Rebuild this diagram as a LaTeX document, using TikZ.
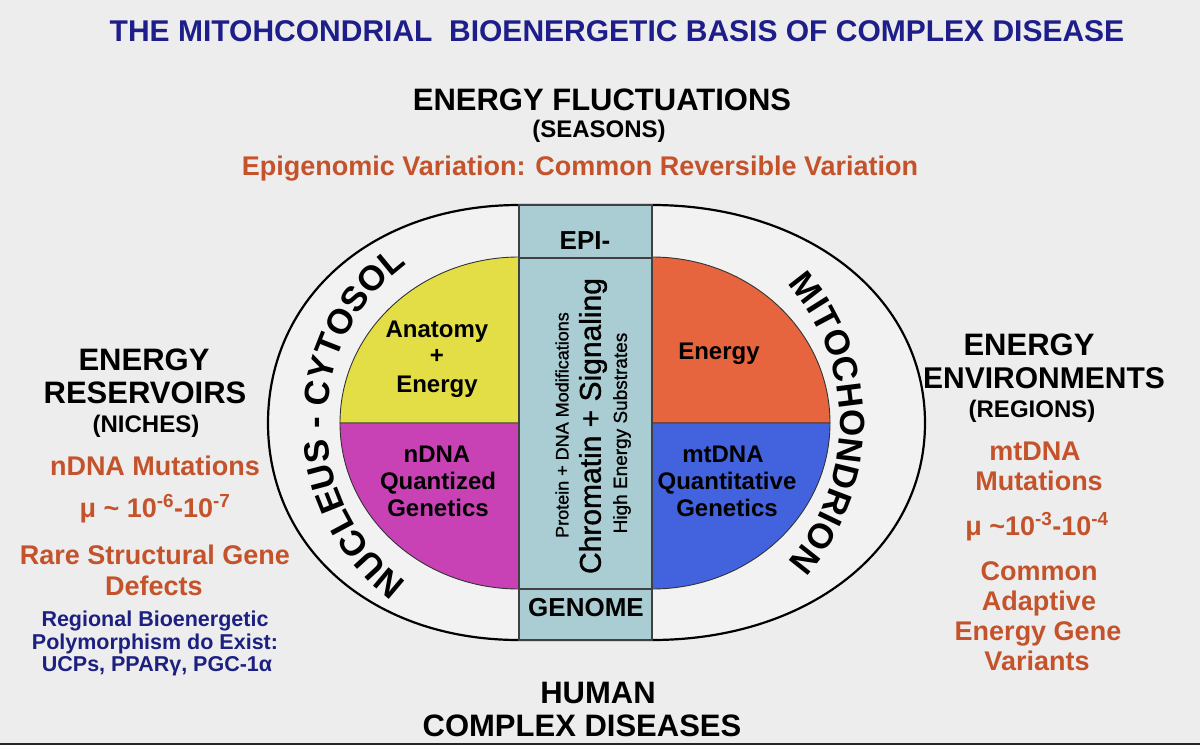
\documentclass[tikz,border=0pt]{standalone}
\usepackage{fontspec}
\setmainfont{Liberation Sans}
\newfontfamily\semib[FakeBold=1.1]{Liberation Sans}
\usetikzlibrary{decorations.text}
\definecolor{bg}{HTML}{EEEDED}
\definecolor{navy}{HTML}{1E1E8A}
\definecolor{rust}{HTML}{C4532B}
\definecolor{navytwo}{HTML}{1C2080}
\definecolor{yel}{HTML}{E3DE45}
\definecolor{mag}{HTML}{C942B5}
\definecolor{org}{HTML}{E6653E}
\definecolor{blu}{HTML}{4262DE}
\definecolor{colm}{HTML}{AACDD3}
\newcommand\fsz[1]{\fontsize{#1}{#1}\selectfont}
\begin{document}
\begin{tikzpicture}[x=1pt,y=-1pt,
  txt/.style={inner sep=0pt, anchor=base, font=\bfseries\fsz{27}},
  head/.style={txt, font=\bfseries\fsz{31}},
  paren/.style={txt, font=\bfseries\fsz{24}},
  rusty/.style={txt, text=rust, font=\bfseries\fsz{27}},
  bluey/.style={txt, text=navytwo, font=\bfseries\fsz{21.5}},
  inner/.style={txt, font=\bfseries\fsz{24}},
  vert/.style={inner sep=0pt, rotate=90},
  halfdisc/.style={draw=black!80, line width=0.9pt},
  cell/.style={fill=colm, draw=black!75, line width=1.3pt}]
\fill[bg] (0,0) rectangle (1200,745);
\useasboundingbox (0,0) rectangle (1200,745);
\fill[black!85] (0,743) rectangle (1200,745);

% outer oval
\draw[line width=2.2pt, fill=bg!70!white]
  (519,205) .. controls (373,205) and (268,297) .. (268,423)
  .. controls (268,549) and (373,640) .. (519,640) -- (652,640)
  .. controls (808,640) and (925,549) .. (925,423)
  .. controls (925,297) and (808,205) .. (652,205) -- cycle;

% half discs
\draw[halfdisc, fill=yel] (519,423) -- (340,423) .. controls (340,331.3) and (420.1,257) .. (519,257) -- cycle;
\draw[halfdisc, fill=mag] (519,423) -- (340,423) .. controls (340,514.7) and (420.1,589) .. (519,589) -- cycle;
\draw[halfdisc, fill=org] (652,423) -- (830,423) .. controls (830,331.3) and (750.3,257) .. (652,257) -- cycle;
\draw[halfdisc, fill=blu] (652,423) -- (830,423) .. controls (830,514.7) and (750.3,589) .. (652,589) -- cycle;

% central column
\draw[cell] (519,205) rectangle (652,258);
\draw[cell] (519,258) rectangle (652,589);
\draw[cell] (519,589) rectangle (652,640);

% curved labels
\coordinate (lc) at (519,423);
\coordinate (rc) at (652,423);
\path[decorate, decoration={text along path, text align=center,
   text={|\bfseries\fsz{35}|NUCLEUS - CYTOSOL}}]
  (lc) ++(-98:192pt and 196pt) arc (-98:-262:192pt and 196pt);
\path[decorate, decoration={text along path, text align=center,
   text={|\bfseries\fsz{35}|MITOCHONDRION}}]
  (rc) ++(60:188pt and 200pt) arc (60:-60:188pt and 200pt);

% titles
\node[txt, text=navy, font=\bfseries\fsz{30}] (title) at (617,41) {THE MITOHCONDRIAL\ \ BIOENERGETIC BASIS OF COMPLEX DISEASE};
\node[head] (fluct) at (602,110) {ENERGY FLUCTUATIONS};
\node[paren] (seasons) at (599,137) {(SEASONS)};
\node[rusty] (epivar) at (580,175) {Epigenomic Variation: Common Reversible Variation};

% left block
\node[head] (l1) at (144,370) {ENERGY};
\node[head] (l2) at (145,403) {RESERVOIRS};
\node[paren] (l3) at (146,432) {(NICHES)};
\node[rusty] (l4) at (155,475) {nDNA Mutations};
\node[rusty] (l5) at (155,517) {μ \textasciitilde\ 10\textsuperscript{-6}-10\textsuperscript{-7}};
\node[rusty] (l6) at (155,564) {Rare Structural Gene};
\node[rusty] (l7) at (154,595) {Defects};
\node[bluey] (l8) at (155,626) {Regional Bioenergetic};
\node[bluey] (l9) at (155,649) {Polymorphism do Exist:};
\node[bluey] (l10) at (157,671) {UCPs, PPARγ, PGC-1α};

% right block
\node[head] (r1) at (1029,355) {ENERGY};
\node[head, font=\bfseries\fsz{30}] (r2) at (1044,388) {ENVIRONMENTS};
\node[paren] (r3) at (1032,417) {(REGIONS)};
\node[rusty] (r4) at (1035,460) {mtDNA};
\node[rusty] (r5) at (1039,490) {Mutations};
\node[rusty] (r6) at (1037,535) {μ \textasciitilde10\textsuperscript{-3}-10\textsuperscript{-4}};
\node[rusty] (r7) at (1039,580) {Common};
\node[rusty] (r8) at (1039,610) {Adaptive};
\node[rusty] (r9) at (1038,640) {Energy Gene};
\node[rusty] (r10) at (1037,670) {Variants};

% bottom
\node[head] (hum) at (598,703) {HUMAN};
\node[head] (cdis) at (582,736) {COMPLEX DISEASES};

% inner labels
\node[inner] (a1) at (437,337) {Anatomy};
\node[inner] (a2) at (437,363) {+};
\node[inner] (a3) at (437,392) {Energy};
\node[inner] (n1) at (437,462) {nDNA};
\node[inner] (n2) at (438,489) {Quantized};
\node[inner] (n3) at (438,516) {Genetics};
\node[inner] (e1) at (719,359) {Energy};
\node[inner] (m1) at (723,462) {mtDNA};
\node[inner] (m2) at (727,489) {Quantitative};
\node[inner] (m3) at (727,516) {Genetics};

% column labels
\node[txt, font=\bfseries\fsz{26}] (epic) at (585,249) {EPI-};
\node[txt, font=\bfseries\fsz{26}] (gen) at (586,616) {GENOME};
\node[vert, font=\semib\fsz{18}] (prot) at (562,425) {Protein + DNA Modifications};
\node[vert, font=\semib\fsz{30}] (chrom) at (593,426) {Chromatin + Signaling};
\node[vert, font=\semib\fsz{19}] (high) at (622,433) {High Energy Substrates};
\end{tikzpicture}
\end{document}
